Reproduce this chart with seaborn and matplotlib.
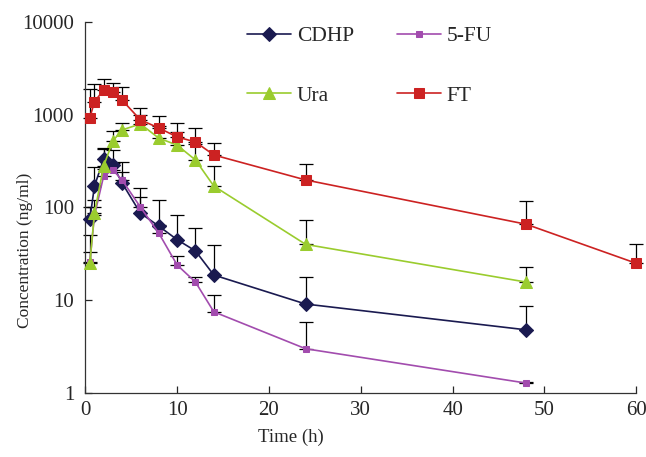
import numpy as np
import pandas as pd
import seaborn as sns
import matplotlib.pyplot as plt
from matplotlib.ticker import FixedLocator, FixedFormatter, NullLocator

# Data (mean and upper error bar)
t_common = [0.5, 1, 2, 3, 4, 6, 8, 10, 12, 14, 24, 48]
t_ft = [0.5, 1, 2, 3, 4, 6, 8, 10, 12, 14, 24, 48, 60]

cdhp = [75, 170, 333, 287, 184, 87, 63, 45, 34, 18.7, 9.1, 4.8]
cdhp_up = [100, 275, 440, 420, 310, 162, 120, 83, 60, 39, 18, 8.7]

fu5 = [26, 82, 218, 254, 198, 101, 53, 24, 15.7, 7.5, 3.0, 1.28]
fu5_up = [33, 100, 260, 300, 240, 130, 65, 30, 18, 11.4, 5.8, 1.3]

ura = [25, 87, 280, 520, 685, 795, 560, 470, 325, 170, 40, 15.7]
ura_up = [50, 120, 427, 670, 810, 1000, 760, 650, 480, 280, 73, 23]

ft = [930, 1380, 1850, 1770, 1440, 880, 720, 576, 508, 368, 198, 66, 25]
ft_up = [1900, 2150, 2430, 2200, 2000, 1190, 970, 810, 720, 495, 295, 117, 40]

names = ["CDHP", "5-FU", "Ura", "FT"]
colors = {"CDHP": "#1a1a50", "5-FU": "#a24cae", "Ura": "#9acc2e", "FT": "#cc2222"}
markers = {"CDHP": "D", "5-FU": "s", "Ura": "^", "FT": "s"}
msizes = {"CDHP": 7, "5-FU": 4.5, "Ura": 9, "FT": 7.5}

series = {
    "CDHP": (t_common, cdhp, cdhp_up),
    "5-FU": (t_common, fu5, fu5_up),
    "Ura": (t_common, ura, ura_up),
    "FT": (t_ft, ft, ft_up),
}

rows = []
for n in names:
    tt, mm, uu = series[n]
    for a, b in zip(tt, mm):
        rows.append({"time": a, "conc": b, "drug": n})
df = pd.DataFrame(rows)

sns.set_style("ticks")
plt.rcParams["font.family"] = ["Liberation Serif", "DejaVu Serif"]

fig, ax = plt.subplots(figsize=(6.46, 4.57), dpi=100)
fig.subplots_adjust(left=0.132, right=0.985, top=0.952, bottom=0.14)

# upper-only error bars
for n in names:
    tt, mm, uu = series[n]
    mm = np.array(mm)
    uu = np.array(uu)
    eb = ax.errorbar(tt, mm, yerr=[np.zeros_like(mm), uu - mm], fmt="none",
                     ecolor="black", elinewidth=0.9, capsize=5, capthick=0.9, zorder=1)
    for art in eb.get_children():
        art.set_clip_on(False)

for n in names:
    sub = df[df["drug"] == n]
    sns.lineplot(data=sub, x="time", y="conc", ax=ax, color=colors[n],
                 marker=markers[n], markersize=msizes[n], markeredgecolor=colors[n],
                 linewidth=1.2, label=n, zorder=3, clip_on=False)

ax.set_yscale("log")
ax.set_xlim(0, 60)
ax.set_ylim(1, 10000)
ax.set_xticks([0, 10, 20, 30, 40, 50, 60])
ax.yaxis.set_major_locator(FixedLocator([1, 10, 100, 1000, 10000]))
ax.yaxis.set_major_formatter(FixedFormatter(["1", "10", "100", "1000", "10000"]))
ax.yaxis.set_minor_locator(NullLocator())
ax.tick_params(direction="in", labelsize=15, length=5, width=0.9)
ax.tick_params(axis="x", pad=6)
ax.tick_params(axis="y", pad=8)

for s in ["top", "right"]:
    ax.spines[s].set_visible(False)
for s in ["left", "bottom"]:
    ax.spines[s].set_linewidth(0.9)
    ax.spines[s].set_color("#333333")

ax.set_xlabel("Time (h)", fontsize=13.5)
ax.set_ylabel("Concentration (ng/ml)", fontsize=12.5)
ax.xaxis.set_label_coords(0.374, -0.095)
ax.yaxis.set_label_coords(-0.094, 0.385)

# legend rows: CDHP, 5-FU / Ura, FT (column-wise fill)
handles, labels = ax.get_legend_handles_labels()
order = [labels.index(k) for k in ["CDHP", "Ura", "5-FU", "FT"]]
ax.legend([handles[i] for i in order], [labels[i] for i in order],
          ncol=2, frameon=False, loc="upper left", bbox_to_anchor=(0.294, 0.989),
          borderpad=0, borderaxespad=0, fontsize=15.5, labelspacing=1.85,
          columnspacing=2.0, handlelength=2.05, handletextpad=0.25)

fig.savefig("out.png", dpi=100)
